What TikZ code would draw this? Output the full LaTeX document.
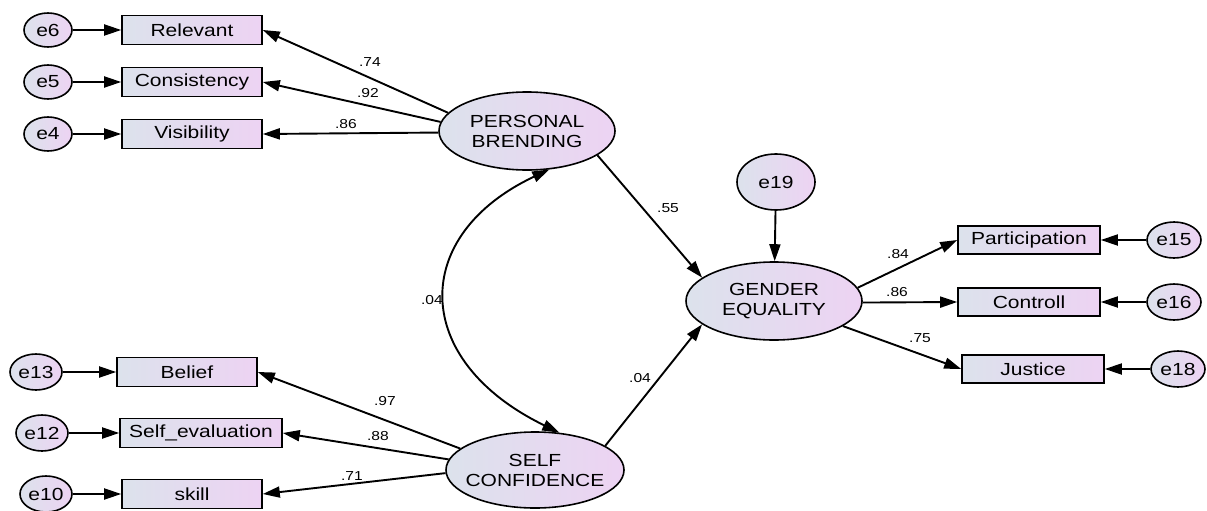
\documentclass[tikz,border=0pt]{standalone}
\usepackage{fontspec}
\setmainfont{Liberation Sans}[FakeStretch=1.2]
\usetikzlibrary{arrows.meta,shapes.geometric}
\definecolor{cA}{HTML}{DCE2EC}
\definecolor{cB}{HTML}{EDD3F3}
\begin{document}
\begin{tikzpicture}[x=1pt,y=-1pt,
  every node/.style={font=\fontsize{17.5}{20}\selectfont},
  base/.style={draw=black, line width=1.6pt, left color=cA, right color=cB, inner sep=0pt},
  lat/.style={base, ellipse, minimum width=176pt, minimum height=78pt, align=center},
  err/.style={base, ellipse, minimum width=48pt, minimum height=34pt},
  ind/.style={base, rectangle, minimum width=140pt, minimum height=29pt},
  arr/.style={line width=1.9pt, -{Triangle[length=17pt,width=11pt]}},
  lbl/.style={font=\fontsize{13}{15}\selectfont}
]
\useasboundingbox[fill=white] (0,0) rectangle (1207,511);

% latent variables
\node[lat] (pb) at (527,131) {PERSONAL\\BRENDING};
\node[lat] (ge) at (774,301) {GENDER\\EQUALITY};
\node[lat, minimum width=178pt, minimum height=76pt, inner xsep=-10pt] (sc) at (535,470) {SELF\\CONFIDENCE};

% indicators
\node[ind] (rel) at (192,30) {Relevant};
\node[ind] (con) at (192,82) {Consistency};
\node[ind] (vis) at (192,134) {Visibility};
\node[ind, minimum width=142pt, minimum height=28pt] (par) at (1029,240) {Participation};
\node[ind, minimum width=142pt, minimum height=28pt] (ctl) at (1029,302) {Controll};
\node[ind, minimum width=142pt, minimum height=28pt] (jus) at (1033,369) {Justice};
\node[ind] (bel) at (187,372) {Belief};
\node[ind, minimum width=162pt] (sev) at (201,433) {Self\_evaluation};
\node[ind] (ski) at (192,494) {skill};

% errors
\node[err] (e6) at (48,30) {e6};
\node[err] (e5) at (48,82) {e5};
\node[err] (e4) at (48,134) {e4};
\node[err, minimum width=78pt, minimum height=56pt] (e19) at (776,182) {e19};
\node[err, minimum width=54pt, minimum height=36pt] (e15) at (1174,240) {e15};
\node[err, minimum width=54pt, minimum height=36pt] (e16) at (1174,302) {e16};
\node[err, minimum width=54pt, minimum height=36pt] (e18) at (1178,369) {e18};
\node[err, minimum width=52pt, minimum height=36pt] (e13) at (36,372) {e13};
\node[err, minimum width=52pt, minimum height=36pt] (e12) at (42,433) {e12};
\node[err, minimum width=52pt, minimum height=36pt] (e10) at (46,494) {e10};

% error paths
\draw[arr] (e6) -- (rel);
\draw[arr] (e5) -- (con);
\draw[arr] (e4) -- (vis);
\draw[arr] (e13) -- (bel);
\draw[arr] (e12) -- (sev);
\draw[arr] (e10) -- (ski);
\draw[arr] (e15) -- (par);
\draw[arr] (e16) -- (ctl);
\draw[arr] (e18) -- (jus);
\draw[arr] (e19) -- (ge);

% loadings
\draw[arr] (pb.167) -- (rel.east);
\draw[arr] (pb.174) -- (con.east);
\draw[arr] (pb.181) -- (vis.east);
\draw[arr] (sc.164) -- (bel.east);
\draw[arr] (sc.173) -- (sev.east);
\draw[arr] (sc.182) -- (ski.east);
\draw[arr] (ge.9) -- (par.west);
\draw[arr] (ge.-1) -- (ctl.west);
\draw[arr] (ge.-20) -- (jus.west);

% structural paths
\draw[arr] (pb.-19) -- (ge.162);
\draw[arr] (sc.19) -- (ge.198);

% covariance
\draw[line width=1.9pt, {Triangle[length=17pt,width=11pt]}-{Triangle[length=17pt,width=11pt]}]
  (sc.57) .. controls (410,360) and (410,235) .. (pb.-60);

% labels
\node[lbl] (l1) at (370,62) {.74};
\node[lbl] (l2) at (368,93) {.92};
\node[lbl] (l3) at (346,124) {.86};
\node[lbl] (l4) at (668,208) {.55};
\node[lbl] (l5) at (432,300) {.04};
\node[lbl] (l6) at (640,378) {.04};
\node[lbl] (l7) at (898,254) {.84};
\node[lbl] (l8) at (897,292) {.86};
\node[lbl] (l9) at (920,338) {.75};
\node[lbl] (l10) at (385,401) {.97};
\node[lbl] (l11) at (378,436) {.88};
\node[lbl] (l12) at (352,476) {.71};
\end{tikzpicture}
\end{document}
